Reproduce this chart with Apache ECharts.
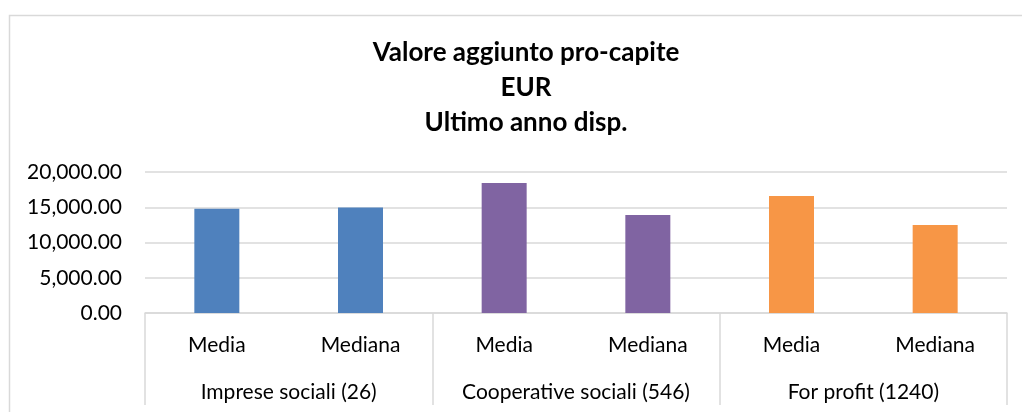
<!DOCTYPE html>
<html>
<head>
<meta charset="utf-8">
<script src="https://cdn.jsdelivr.net/npm/echarts@6/dist/echarts.min.js"></script>
<style>
  html, body { margin: 0; padding: 0; background: #fff; }
  #chart { width: 1022px; height: 412px; }
</style>
</head>
<body>
<div id="chart"></div>
<script>
// dati
const titleLines = ["Valore aggiunto pro-capite", "EUR", "Ultimo anno disp."];
const categories = ["Media", "Mediana", "Media", "Mediana", "Media", "Mediana"];
const groups = ["Imprese sociali (26)", "Cooperative sociali (546)", "For profit (1240)"];
const values = [14800, 14950, 18450, 13900, 16600, 12480];
const groupColors = ["#4F81BD", "#8064A2", "#F79646"];

const font = "Lato, 'Liberation Sans', sans-serif";
const chart = echarts.init(document.getElementById("chart"));

const option = {
  animation: false,
  backgroundColor: "#fff",
  // cornice del grafico
  graphic: [{
    type: "rect",
    left: 7,
    top: 13,
    shape: { width: 1040, height: 420 },
    style: { fill: "none", stroke: "#d9d9d9", lineWidth: 1.5 },
    silent: true
  }],
  title: {
    text: titleLines.join("\n"),
    left: 521,
    textAlign: "center",
    top: 30,
    textStyle: {
      fontFamily: font,
      fontWeight: "bold",
      fontSize: 26,
      lineHeight: 35,
      color: "#000"
    }
  },
  grid: {
    left: 145,
    right: 15,
    top: 172,
    bottom: 99,
    containLabel: false
  },
  xAxis: [
    {
      type: "category",
      data: categories,
      axisLine: { show: true, lineStyle: { color: "#d9d9d9", width: 1.5 } },
      axisTick: { show: false },
      axisLabel: {
        fontFamily: font,
        fontSize: 21,
        color: "#000",
        margin: 32,
        verticalAlign: "middle",
        interval: 0
      }
    },
    {
      // secondo livello: gruppi
      type: "category",
      data: groups,
      position: "bottom",
      axisLine: { show: false },
      axisTick: { show: true, length: 92, lineStyle: { color: "#d9d9d9", width: 1.5 } },
      axisLabel: {
        fontFamily: font,
        fontSize: 21,
        color: "#000",
        margin: 79,
        verticalAlign: "middle",
        interval: 0
      }
    }
  ],
  yAxis: {
    type: "value",
    min: 0,
    max: 20000,
    interval: 5000,
    axisLine: { show: false },
    axisTick: { show: false },
    splitLine: { lineStyle: { color: "#d9d9d9", width: 1.5 } },
    axisLabel: {
      fontFamily: font,
      fontSize: 21,
      color: "#000",
      margin: 23,
      formatter: v => v.toLocaleString("en-US", { minimumFractionDigits: 2, maximumFractionDigits: 2 })
    }
  },
  series: [{
    type: "bar",
    xAxisIndex: 0,
    barWidth: 45,
    data: values.map((v, i) => ({
      value: v,
      itemStyle: { color: groupColors[Math.floor(i / 2)] }
    }))
  }]
};

chart.setOption(option);
</script>
</body>
</html>
